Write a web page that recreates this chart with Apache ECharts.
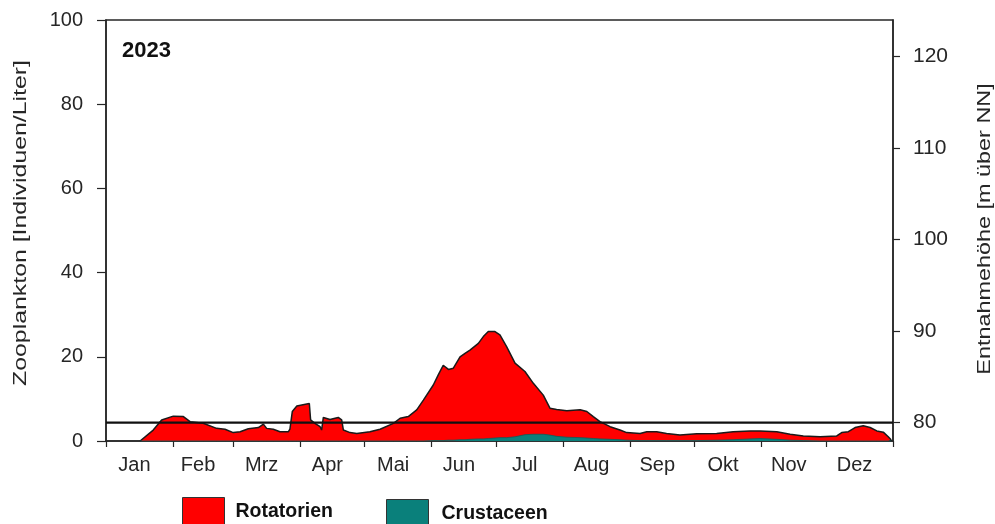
<!DOCTYPE html>
<html>
<head>
<meta charset="utf-8">
<script src="https://cdn.jsdelivr.net/npm/echarts@6/dist/echarts.min.js"></script>
<style>
  html, body { margin: 0; padding: 0; background: #fff; }
  #chart { width: 995px; height: 524px; }
</style>
</head>
<body>
<div id="chart"></div>
<script>
// Zooplankton 2023: abundance (Individuen/Liter) over the day of year
const year = '2023';
const monthNames = ['Jan', 'Feb', 'Mrz', 'Apr', 'Mai', 'Jun', 'Jul', 'Aug', 'Sep', 'Okt', 'Nov', 'Dez'];
const monthLengths = [31, 28, 31, 30, 31, 30, 31, 31, 30, 31, 30, 31];

// day of year for each sample
const days = [
  15.8, 21.9, 25.8, 31.2, 35.9, 39.0, 45.1, 51.3, 55.2, 59.0,
  62.2, 66.0, 70.7, 73.0, 74.5, 77.6, 80.7, 84.6, 85.3, 86.4,
  88.5, 93.1, 94.3, 94.9, 96.9, 99.3, 100.0, 100.8, 103.9, 107.7,
  109.3, 110.1, 113.2, 116.3, 122.4, 127.1, 133.3, 136.4, 140.2, 144.1,
  147.2, 151.8, 154.1, 156.4, 158.8, 161.1, 164.2, 166.5, 168.8, 172.7,
  175.0, 177.3, 180.4, 182.7, 185.8, 189.7, 194.3, 198.2, 202.8, 205.9,
  209.0, 213.7, 219.9, 223.0, 226.0, 229.1, 233.8, 238.4, 241.5, 247.7,
  250.8, 255.4, 260.0, 266.2, 274.0, 283.2, 290.9, 298.7, 303.3, 311.1,
  317.3, 323.4, 331.2, 338.9, 341.2, 344.3, 347.4, 351.2, 354.4, 357.5,
  360.5, 362.8, 363.9, 364.3
];

// Rotatorien stacked on Crustaceen: upper edge of the red area
const rotatorienGestapelt = [
  0, 2.6, 5.0, 5.9, 5.8, 4.6, 4.2, 3.0, 2.8, 2.0,
  2.2, 2.9, 3.2, 4.0, 3.0, 2.8, 2.2, 2.2, 2.8, 7.0,
  8.3, 8.8, 8.9, 5.0, 4.2, 3.4, 2.6, 5.6, 5.1, 5.6,
  5.0, 2.6, 2.0, 1.8, 2.2, 2.8, 4.2, 5.4, 5.8, 7.4,
  9.7, 13.3, 15.7, 18.0, 17.0, 17.3, 20.0, 20.8, 21.6, 23.2,
  24.8, 26.0, 26.0, 25.2, 22.4, 18.5, 16.5, 13.7, 10.9, 7.8,
  7.5, 7.2, 7.4, 7.0, 5.8, 4.6, 3.4, 2.6, 2.0, 1.8,
  2.2, 2.2, 1.8, 1.4, 1.7, 1.8, 2.2, 2.4, 2.4, 2.2,
  1.6, 1.2, 1.0, 1.2, 2.0, 2.2, 3.2, 3.6, 3.2, 2.4,
  2.1, 1.0, 0.4, 0
];

const crustaceen = [
  0, 0, 0, 0, 0, 0, 0, 0, 0, 0,
  0, 0, 0, 0, 0, 0, 0, 0, 0, 0,
  0, 0, 0, 0, 0, 0, 0, 0, 0, 0,
  0, 0, 0, 0, 0, 0, 0, 0, 0, 0,
  0, 0.1, 0.1, 0.1, 0.2, 0.2, 0.3, 0.3, 0.4, 0.5,
  0.5, 0.6, 0.7, 0.8, 0.8, 1.0, 1.5, 1.6, 1.6, 1.4,
  1.1, 0.9, 0.8, 0.7, 0.6, 0.5, 0.4, 0.3, 0.2, 0.1,
  0.1, 0.1, 0.1, 0.1, 0.1, 0.2, 0.3, 0.5, 0.6, 0.4,
  0.2, 0.1, 0, 0, 0, 0, 0, 0, 0, 0,
  0, 0, 0, 0
];

// sampling elevation (m über NN)
const entnahmehoehe = 80;

const leftTicks = [0, 20, 40, 60, 80, 100];
const rightTicks = [80, 90, 100, 110, 120];

// month boundaries and mid-month label positions
const monthStarts = [0];
monthLengths.forEach((len, i) => monthStarts.push(monthStarts[i] + len));
const monthMids = monthLengths.map((len, i) => monthStarts[i] + len / 2);

const FONT = '"Liberation Sans", Arial, sans-serif';
const INK = '#262626';

const chart = echarts.init(document.getElementById('chart'), null, { renderer: 'canvas' });

const pairs = (vals) => days.map((d, i) => [d, vals[i]]);

// vertical axis titles, stretched along the reading direction
const axisTitle = (text, x, y, stretch) => ({
  type: 'text', x: x, y: y, rotation: Math.PI / 2, scaleX: stretch, silent: true,
  style: { text: text, font: '18px ' + FONT, fill: INK, textAlign: 'center', textVerticalAlign: 'middle' }
});

chart.setOption({
  animation: false,
  backgroundColor: '#fff',
  textStyle: { fontFamily: FONT, color: INK },
  grid: {
    left: 106, right: 102, top: 20, bottom: 83,
    show: true, borderColor: INK, borderWidth: 1.5, backgroundColor: 'transparent'
  },
  title: {
    text: year, left: 117, top: 35,
    textStyle: { fontFamily: FONT, fontSize: 22, fontWeight: 'bold', color: '#111' }
  },
  graphic: [
    axisTitle('Zooplankton [Individuen/Liter]', 21, 223, 1.38),
    axisTitle('Entnahmehöhe [m über NN]', 985, 229, 1.3)
  ],
  legend: [
    {
      left: 177, top: 492, itemWidth: 42, itemHeight: 29, itemGap: 0,
      textStyle: { fontFamily: FONT, fontSize: 19.5, fontWeight: 'bold', color: '#111', padding: [4, 0, 0, 6] },
      selectedMode: false,
      data: [{ name: 'Rotatorien', icon: 'rect', itemStyle: { color: '#ff0000', borderColor: '#333', borderWidth: 1 } }]
    },
    {
      left: 381, top: 494, itemWidth: 42, itemHeight: 29, itemGap: 0,
      textStyle: { fontFamily: FONT, fontSize: 19.5, fontWeight: 'bold', color: '#111', padding: [8, 0, 0, 8] },
      selectedMode: false,
      data: [{ name: 'Crustaceen', icon: 'rect', itemStyle: { color: '#0a807b', borderColor: '#333', borderWidth: 1 } }]
    }
  ],
  xAxis: {
    type: 'value', min: 0, max: 365,
    axisLine: { show: true, lineStyle: { color: INK, width: 1.5 } },
    splitLine: { show: false },
    axisTick: { show: true, length: 6, lineStyle: { color: INK, width: 1.2 }, customValues: monthStarts },
    axisLabel: {
      fontFamily: FONT, fontSize: 20, color: INK, margin: 14, padding: [0, 10, 0, 0],
      customValues: monthMids,
      formatter: (v) => monthNames[monthMids.indexOf(v)] || ''
    }
  },
  yAxis: [
    {
      type: 'value', min: 0, max: 100, position: 'left',
      axisLine: { show: true, lineStyle: { color: INK, width: 1.5 } },
      splitLine: { show: false },
      axisTick: { show: true, length: 9, lineStyle: { color: INK, width: 1.2 }, customValues: leftTicks },
      axisLabel: { fontFamily: FONT, fontSize: 20, color: INK, margin: 23, customValues: leftTicks }
    },
    {
      type: 'value', min: 78, max: 124, position: 'right',
      axisLine: { show: true, lineStyle: { color: INK, width: 1.5 } },
      splitLine: { show: false },
      axisTick: { show: true, length: 7, lineStyle: { color: INK, width: 1.2 }, customValues: rightTicks },
      axisLabel: { fontFamily: FONT, fontSize: 21, color: INK, margin: 20, customValues: rightTicks }
    }
  ],
  series: [
    {
      name: 'Rotatorien', type: 'line', yAxisIndex: 0,
      data: pairs(rotatorienGestapelt), showSymbol: false, smooth: false,
      itemStyle: { color: '#ff0000' },
      lineStyle: { color: '#1a1a1a', width: 1.5 },
      areaStyle: { color: '#ff0000', opacity: 1 },
      z: 2
    },
    {
      name: 'Crustaceen', type: 'line', yAxisIndex: 0,
      data: pairs(crustaceen), showSymbol: false, smooth: false,
      itemStyle: { color: '#0a807b' },
      lineStyle: { color: '#0b5e5a', width: 0.8 },
      areaStyle: { color: '#0a807b', opacity: 1 },
      z: 3
    },
    {
      name: 'Entnahmehöhe', type: 'line', yAxisIndex: 1,
      data: [[0, entnahmehoehe], [365, entnahmehoehe]],
      showSymbol: false, silent: true,
      lineStyle: { color: '#111', width: 2.2 },
      z: 5
    }
  ]
});
</script>
</body>
</html>
